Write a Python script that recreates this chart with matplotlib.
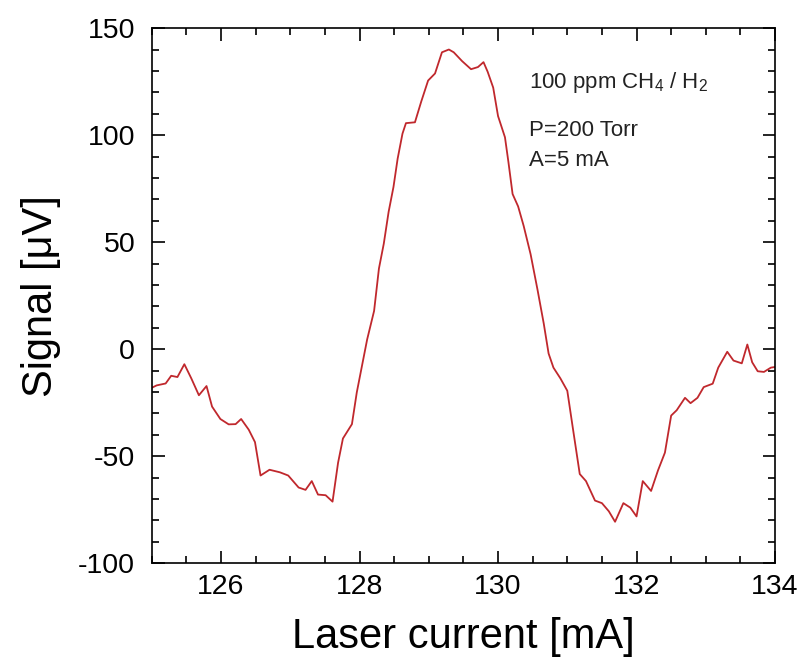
import matplotlib
matplotlib.use("Agg")
import matplotlib.pyplot as plt
from matplotlib.ticker import MultipleLocator

plt.rcParams['font.family'] = ['Liberation Sans', 'DejaVu Sans']
plt.rcParams['mathtext.fontset'] = 'custom'
plt.rcParams['mathtext.rm'] = 'Liberation Sans'
plt.rcParams['axes.unicode_minus'] = False

# laser current scan [mA] and lock-in signal [uV]
current = [125.0, 125.07, 125.2, 125.28, 125.37, 125.47, 125.57, 125.68, 125.79, 125.87,
           125.99, 126.11, 126.21, 126.29, 126.4, 126.49, 126.57, 126.7, 126.85, 126.97,
           127.12, 127.22, 127.31, 127.4, 127.51, 127.61, 127.69, 127.76, 127.89, 127.96,
           128.03, 128.11, 128.21, 128.28, 128.35, 128.42, 128.49, 128.55, 128.62, 128.67,
           128.8, 128.89, 128.99, 129.09, 129.19, 129.29, 129.36, 129.48, 129.61, 129.71,
           129.79, 129.85, 129.93, 130.0, 130.1, 130.15, 130.21, 130.29, 130.37, 130.47,
           130.57, 130.66, 130.73, 130.8, 130.9, 131.0, 131.08, 131.18, 131.27, 131.4,
           131.5, 131.6, 131.69, 131.81, 131.91, 132.0, 132.09, 132.21, 132.31, 132.41,
           132.5, 132.58, 132.7, 132.78, 132.88, 132.97, 133.1, 133.18, 133.31, 133.4,
           133.52, 133.6, 133.67, 133.75, 133.84, 133.94, 134.0]
signal = [-18, -16.9, -16, -12.4, -13, -7, -13.6, -21.5, -17.2, -26.8,
          -32.6, -35.1, -35, -32.6, -37.6, -43.4, -59, -56.3, -57.5, -59,
          -64.6, -65.7, -61.6, -67.9, -68.2, -71.2, -53, -41.7, -35, -20.2,
          -8.6, 4.6, 17.9, 37.7, 49.3, 64.2, 75.8, 89, 100.7, 105.6,
          106, 115.6, 125.5, 128.8, 138.7, 140, 138.7, 134.6, 130.8, 131.8,
          134.1, 129.6, 122.2, 108.9, 99, 87.4, 72.5, 66.7, 57.6, 44.4,
          27.8, 12, -2, -8.6, -13.6, -19.4, -36.8, -58.3, -61.6, -70.7,
          -71.9, -75.7, -80.6, -71.9, -74, -78.1, -61.6, -66.2, -56.6, -48.3,
          -31, -28.5, -22.7, -25.2, -22.7, -17.7, -16.1, -8.6, -1.2, -5.3,
          -6.6, 2.2, -6.1, -10.3, -10.6, -8.6, -8.3]

fig = plt.figure(figsize=(7.99, 6.69), dpi=100)
ax = fig.add_axes([0.190, 0.158, 0.780, 0.800])
ax.plot(current, signal, color='#c0282d', lw=1.3)

ax.set_xlim(125, 134)
ax.set_ylim(-100, 150)
ax.xaxis.set_major_locator(MultipleLocator(2))
ax.xaxis.set_minor_locator(MultipleLocator(0.5))
ax.yaxis.set_major_locator(MultipleLocator(50))
ax.yaxis.set_minor_locator(MultipleLocator(10))
ax.tick_params(which='both', direction='in', top=True, right=True, width=1.2)
ax.tick_params(which='major', length=9)
ax.tick_params(which='minor', length=5)
ax.tick_params(axis='x', labelsize=20.5, pad=8)
ax.tick_params(axis='y', labelsize=20.5, pad=12)
for s in ax.spines.values():
    s.set_linewidth(1.2)

ax.set_xlabel('Laser current [mA]', fontsize=30, labelpad=12)
ax.set_ylabel('Signal [μV]', fontsize=30, labelpad=12)

ax.text(0.606, 0.899, '100 ppm CH$_4$ / H$_2$', transform=ax.transAxes, fontsize=16,
        color='#222222', va='center')
ax.text(0.606, 0.809, 'P=200 Torr', transform=ax.transAxes, fontsize=16,
        color='#222222', va='center')
ax.text(0.606, 0.753, 'A=5 mA', transform=ax.transAxes, fontsize=16,
        color='#222222', va='center')

fig.savefig('out.png', dpi=100)
